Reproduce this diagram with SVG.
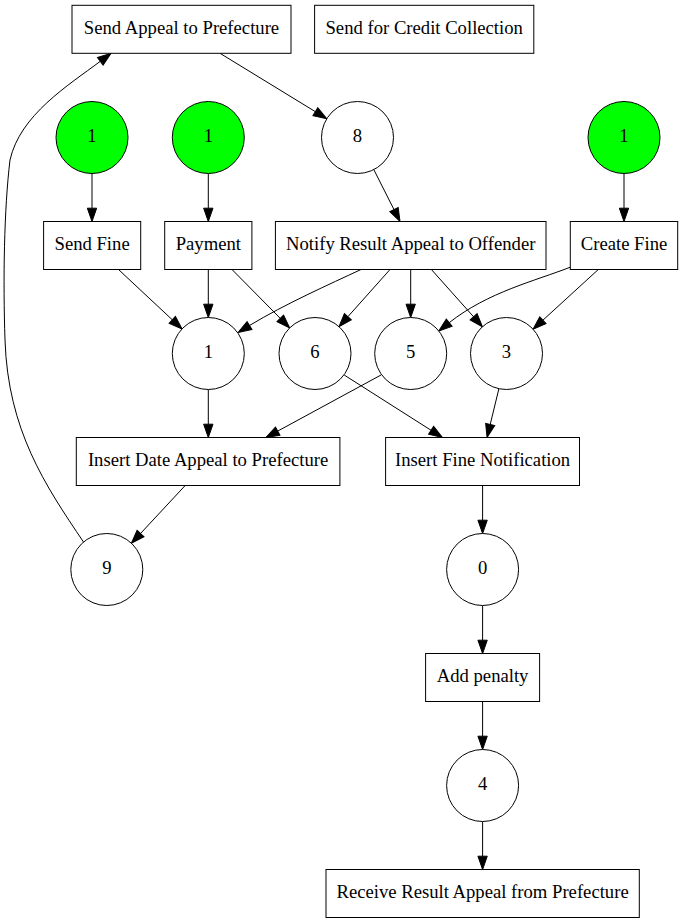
<svg xmlns="http://www.w3.org/2000/svg" width="683" height="923" viewBox="0 0 683 923">
  <style>
    .box { fill: #ffffff; stroke: #000000; stroke-width: 1; }
    .place { fill: #ffffff; stroke: #000000; stroke-width: 1; }
    .start { fill: #00ff00; stroke: #000000; stroke-width: 1; }
    .label { font-family: "Liberation Serif", "Times New Roman", serif; font-size: 18.67px; fill: #000000; text-anchor: middle; }
    .edge { fill: none; stroke: #000000; stroke-width: 1; marker-end: url(#arrow); }
  </style>
  <defs>
    <marker id="arrow" markerUnits="userSpaceOnUse" markerWidth="14" markerHeight="10" viewBox="0 0 14 10" refX="0" refY="5" orient="auto" overflow="visible">
      <path d="M0,0.33 L13.33,5 L0,9.67 Z" fill="#000000" stroke="#000000" stroke-width="1"/>
    </marker>
  </defs>
  <rect width="683" height="923" fill="#ffffff"/>

  <!-- connectors (each path stops at the arrowhead base) -->
  <g id="edges">
    <path class="edge" d="M220,53.3 L315.4,111.7"/>
    <path class="edge" d="M373.8,169.6 L394,209.6"/>
    <path class="edge" d="M92,173.5 L92,208.2"/>
    <path class="edge" d="M208.3,173.5 L208.3,208.2"/>
    <path class="edge" d="M624,173.5 L624,208.2"/>
    <path class="edge" d="M118.5,269.5 L172.3,319.8"/>
    <path class="edge" d="M208.3,269.5 L208.3,304.2"/>
    <path class="edge" d="M232,269.5 L280.3,318.4"/>
    <path class="edge" d="M361,269.5 C330,284 285,304 249.5,325.5"/>
    <path class="edge" d="M390,269.5 L347.9,316.7"/>
    <path class="edge" d="M410.7,269.5 L410.7,304.2"/>
    <path class="edge" d="M431.4,269.5 L473.6,316.8"/>
    <path class="edge" d="M570.8,267 C535,281 488,292 449.2,322.7"/>
    <path class="edge" d="M598.3,269.5 L542.9,320.2"/>
    <path class="edge" d="M208.3,389.5 L208.3,424.2"/>
    <path class="edge" d="M381,375 L277.7,431.1"/>
    <path class="edge" d="M344.2,375 L431.1,430.3"/>
    <path class="edge" d="M498.9,388.7 L490.2,424.5"/>
    <path class="edge" d="M185.2,485.5 L140.5,533.5"/>
    <path class="edge" d="M482.6,485.5 L482.6,520.2"/>
    <path class="edge" d="M482.6,605.5 L482.6,640.2"/>
    <path class="edge" d="M482.6,701.5 L482.6,736.2"/>
    <path class="edge" d="M482.6,821.5 L482.6,856.2"/>
    <path class="edge" d="M83.5,542 C45,485 8,430 5,340 C3,280 4,210 10,160 C20,115 68.3,85.3 100.3,61.3"/>
  </g>

  <!-- transitions -->
  <g id="send_appeal">
    <rect class="box" x="72" y="5.3" width="219" height="48"/>
    <text class="label" x="181.5" y="34">Send Appeal to Prefecture</text>
  </g>
  <g id="send_credit">
    <rect class="box" x="314.6" y="5.3" width="219.2" height="48"/>
    <text class="label" x="424.2" y="34">Send for Credit Collection</text>
  </g>
  <g id="send_fine">
    <rect class="box" x="43.6" y="221.5" width="97.1" height="48"/>
    <text class="label" x="92.1" y="250">Send Fine</text>
  </g>
  <g id="payment">
    <rect class="box" x="164.7" y="221.5" width="87.2" height="48"/>
    <text class="label" x="208.3" y="250">Payment</text>
  </g>
  <g id="notify_result">
    <rect class="box" x="275.4" y="221.5" width="270.6" height="48"/>
    <text class="label" x="410.7" y="250">Notify Result Appeal to Offender</text>
  </g>
  <g id="create_fine">
    <rect class="box" x="570.3" y="221.5" width="107.4" height="48"/>
    <text class="label" x="624" y="250">Create Fine</text>
  </g>
  <g id="insert_date">
    <rect class="box" x="76.3" y="437.5" width="263.6" height="48"/>
    <text class="label" x="208.1" y="466">Insert Date Appeal to Prefecture</text>
  </g>
  <g id="insert_notification">
    <rect class="box" x="385.6" y="437.5" width="193.9" height="48"/>
    <text class="label" x="482.6" y="466">Insert Fine Notification</text>
  </g>
  <g id="add_penalty">
    <rect class="box" x="425.6" y="653.5" width="114" height="48"/>
    <text class="label" x="482.6" y="682">Add penalty</text>
  </g>
  <g id="receive_result">
    <rect class="box" x="326" y="869.5" width="313.3" height="48"/>
    <text class="label" x="482.6" y="898">Receive Result Appeal from Prefecture</text>
  </g>

  <!-- places -->
  <g id="start_send_fine">
    <circle class="start" cx="92" cy="137.5" r="36"/>
    <text class="label" x="92" y="142">1</text>
  </g>
  <g id="start_payment">
    <circle class="start" cx="208.3" cy="137.5" r="36"/>
    <text class="label" x="208.3" y="142">1</text>
  </g>
  <g id="p8">
    <circle class="place" cx="357.5" cy="137.5" r="36"/>
    <text class="label" x="357.5" y="142">8</text>
  </g>
  <g id="start_create_fine">
    <circle class="start" cx="624" cy="137.5" r="36"/>
    <text class="label" x="624" y="142">1</text>
  </g>
  <g id="p1">
    <circle class="place" cx="208.3" cy="353.5" r="36"/>
    <text class="label" x="208.3" y="358">1</text>
  </g>
  <g id="p6">
    <circle class="place" cx="315" cy="353.5" r="36"/>
    <text class="label" x="315" y="358">6</text>
  </g>
  <g id="p5">
    <circle class="place" cx="410.7" cy="353.5" r="36"/>
    <text class="label" x="410.7" y="358">5</text>
  </g>
  <g id="p3">
    <circle class="place" cx="506.5" cy="353.5" r="36"/>
    <text class="label" x="506.5" y="358">3</text>
  </g>
  <g id="p9">
    <circle class="place" cx="106.8" cy="569.5" r="36"/>
    <text class="label" x="106.8" y="574">9</text>
  </g>
  <g id="p0">
    <circle class="place" cx="482.6" cy="569.5" r="36"/>
    <text class="label" x="482.6" y="574">0</text>
  </g>
  <g id="p4">
    <circle class="place" cx="482.6" cy="785.5" r="36"/>
    <text class="label" x="482.6" y="790">4</text>
  </g>
</svg>
